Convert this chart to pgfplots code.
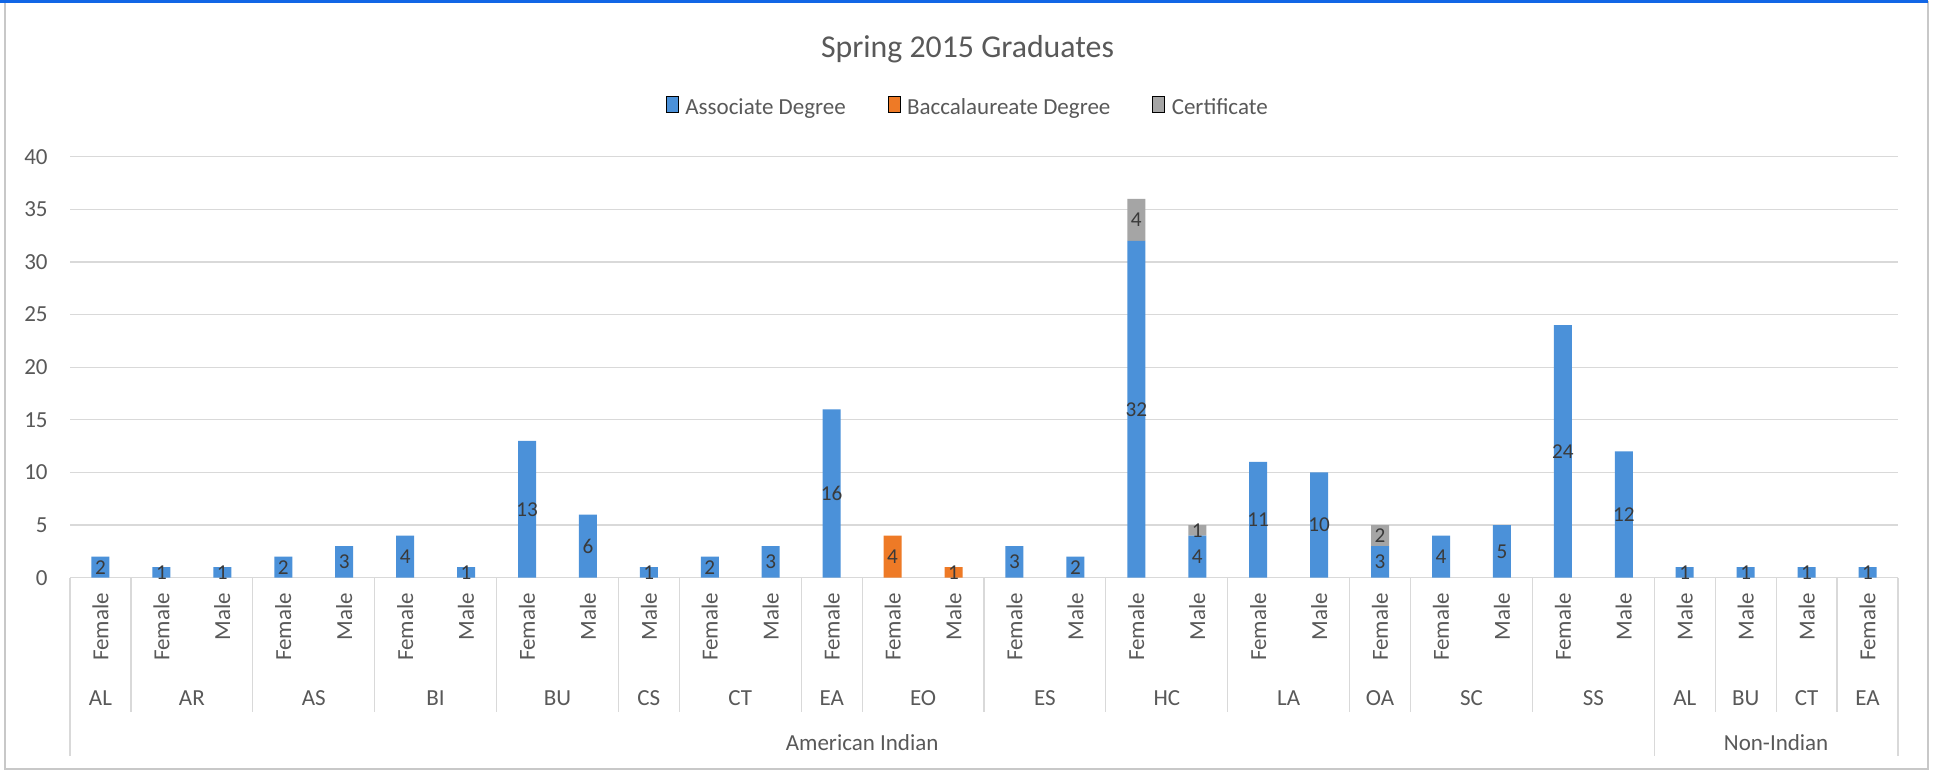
\documentclass[border=0pt]{standalone}
\usepackage{pgfplots}
\pgfplotsset{compat=1.18}
\usepackage{pgfplotstable}
\usepackage{fontspec}
\setmainfont{Carlito}
\definecolor{assoc}{HTML}{4B91D9}
\definecolor{bacc}{HTML}{EE7A26}
\definecolor{cert}{HTML}{A5A5A5}
\definecolor{txt}{HTML}{595959}
\definecolor{lbl}{HTML}{3A3A3A}
\definecolor{gridc}{HTML}{D9D9D9}
\definecolor{framec}{HTML}{C8C8C8}
\definecolor{topblue}{HTML}{1166E6}

\pgfplotstableread{
idx assoc bacc cert
0 2 0 0
1 1 0 0
2 1 0 0
3 2 0 0
4 3 0 0
5 4 0 0
6 1 0 0
7 13 0 0
8 6 0 0
9 1 0 0
10 2 0 0
11 3 0 0
12 16 0 0
13 0 4 0
14 0 1 0
15 3 0 0
16 2 0 0
17 32 0 4
18 4 0 1
19 11 0 0
20 10 0 0
21 3 0 2
22 4 0 0
23 5 0 0
24 24 0 0
25 12 0 0
26 1 0 0
27 1 0 0
28 1 0 0
29 1 0 0
}\grads

\newcommand{\axfont}{\fontsize{11.5}{13.8}\selectfont}
\newcommand{\lblfont}{\fontsize{10.6}{12.7}\selectfont}

\begin{document}
\begin{tikzpicture}
\path[use as bounding box] (0,0) rectangle (967.5pt,385pt);
\fill[white] (0,0) rectangle (967.5pt,385pt);
\draw[framec, line width=0.8pt] (2.5pt,0.6pt) rectangle (964pt,384pt);
\fill[topblue] (0,383.6pt) rectangle (964pt,385pt);
\node[font=\fontsize{15.9}{19}\selectfont, text=txt] at (483.75pt,360.3pt) {Spring 2015 Graduates};
\begin{axis}[
  at={(35pt,96.15pt)}, anchor=south west,
  scale only axis, width=914pt, height=210.5pt,
  xmin=-0.5, xmax=29.5, ymin=0, ymax=40,
  ybar stacked, bar width=9pt,
  clip=false,
  axis line style={draw=none},
  major tick length=0pt,
  ytick={0,5,...,40},
  ymajorgrids, grid style={gridc, line width=0.6pt},
  yticklabel style={font=\axfont, text=txt, anchor=east, inner sep=0pt, xshift=-11pt},
  /pgf/number format/assume math mode=true,
  xtick={0,...,29},
  xticklabels={Female,Female,Male,Female,Male,Female,Male,Female,Male,Male,Female,Male,Female,Female,Male,Female,Male,Female,Male,Female,Male,Female,Female,Male,Female,Male,Male,Male,Male,Female},
  xticklabel style={font=\axfont, text=txt, rotate=90, anchor=east, inner sep=0pt},
  xticklabel shift=7.5pt,
  /pgfplots/ybar legend/.style={/pgfplots/legend image code/.code={\fill[##1, draw=none] (0pt,-2.8pt) rectangle (5.6pt,2.8pt);}},
  legend style={at={(0.326,1.1157)}, anchor=west, draw=none, fill=none, font=\axfont, text=txt,
    inner sep=0pt, outer sep=0pt,
    legend columns=3,
    nodes={inner sep=1.5pt},
    /tikz/every odd column/.append style={column sep=1.8pt},
    /tikz/every even column/.append style={column sep=19.5pt}},
  nodes near coords={\pgfmathfloatifflags{\pgfplotspointmeta}{0}{}{\pgfmathprintnumber{\pgfplotspointmeta}}},
  every node near coord/.append style={font=\lblfont, text=lbl, anchor=center, inner sep=0pt},
]
\addplot[fill=assoc, draw=none, point meta=\thisrow{assoc}] table[x=idx, y=assoc] {\grads};
\addlegendentry{Associate Degree}
\addplot[fill=bacc, draw=none, point meta=\thisrow{bacc}] table[x=idx, y=bacc] {\grads};
\addlegendentry{Baccalaureate Degree}
\addplot[fill=cert, draw=none, point meta=\thisrow{cert}] table[x=idx, y=cert] {\grads};
\addlegendentry{Certificate}

\draw[gridc, line width=0.6pt] (axis cs:-0.5,0) -- (axis cs:29.5,0);
\pgfplotsinvokeforeach{0.5,2.5,4.5,6.5,8.5,9.5,11.5,12.5,14.5,16.5,18.5,20.5,21.5,23.5,26.5,27.5,28.5}{
  \draw[gridc, line width=0.6pt] (axis cs:#1,0) -- ([yshift=-67pt]axis cs:#1,0);
}
\pgfplotsinvokeforeach{-0.5,25.5,29.5}{
  \draw[gridc, line width=0.6pt] (axis cs:#1,0) -- ([yshift=-89pt]axis cs:#1,0);
}
\tikzset{grp/.style={font=\axfont, text=txt, anchor=center, inner sep=0pt}}
\node[grp] at ([yshift=-60.2pt]axis cs:0,0) {AL};
\node[grp] at ([yshift=-60.2pt]axis cs:1.5,0) {AR};
\node[grp] at ([yshift=-60.2pt]axis cs:3.5,0) {AS};
\node[grp] at ([yshift=-60.2pt]axis cs:5.5,0) {BI};
\node[grp] at ([yshift=-60.2pt]axis cs:7.5,0) {BU};
\node[grp] at ([yshift=-60.2pt]axis cs:9,0) {CS};
\node[grp] at ([yshift=-60.2pt]axis cs:10.5,0) {CT};
\node[grp] at ([yshift=-60.2pt]axis cs:12,0) {EA};
\node[grp] at ([yshift=-60.2pt]axis cs:13.5,0) {EO};
\node[grp] at ([yshift=-60.2pt]axis cs:15.5,0) {ES};
\node[grp] at ([yshift=-60.2pt]axis cs:17.5,0) {HC};
\node[grp] at ([yshift=-60.2pt]axis cs:19.5,0) {LA};
\node[grp] at ([yshift=-60.2pt]axis cs:21,0) {OA};
\node[grp] at ([yshift=-60.2pt]axis cs:22.5,0) {SC};
\node[grp] at ([yshift=-60.2pt]axis cs:24.5,0) {SS};
\node[grp] at ([yshift=-60.2pt]axis cs:26,0) {AL};
\node[grp] at ([yshift=-60.2pt]axis cs:27,0) {BU};
\node[grp] at ([yshift=-60.2pt]axis cs:28,0) {CT};
\node[grp] at ([yshift=-60.2pt]axis cs:29,0) {EA};
\node[grp] at ([yshift=-82.7pt]axis cs:12.5,0) {American Indian};
\node[grp] at ([yshift=-82.7pt]axis cs:27.5,0) {Non-Indian};
\end{axis}
\end{tikzpicture}
\end{document}
